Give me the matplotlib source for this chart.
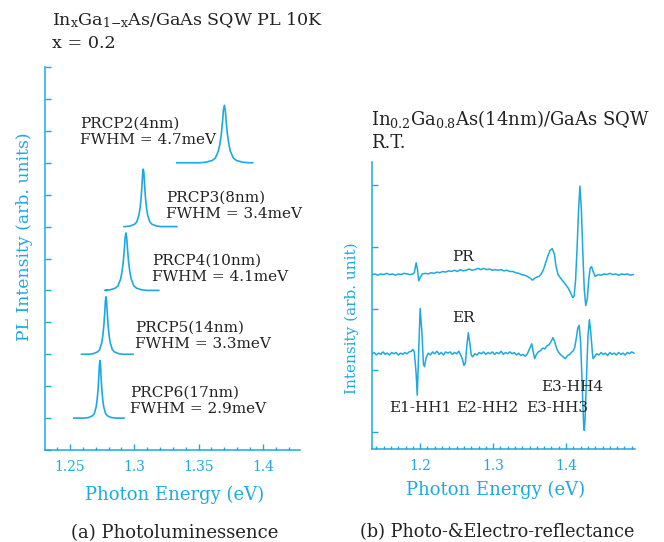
import numpy as np
import matplotlib
matplotlib.use("Agg")
import matplotlib.pyplot as plt
from matplotlib.ticker import MultipleLocator

# spectra colour and text colour
CYAN = "#1ca9e2"
INK = "#222222"

plt.rcParams["font.family"] = ["DejaVu Serif"]
plt.rcParams["mathtext.fontset"] = "dejavuserif"

# --- (a) PL spectra: one peak per sample ---
pl_names = ["PRCP2(4nm)", "PRCP3(8nm)", "PRCP4(10nm)", "PRCP5(14nm)", "PRCP6(17nm)"]
pl_fwhm_mev = [4.7, 3.4, 4.1, 3.3, 2.9]
pl_center = [1.370, 1.307, 1.2935, 1.278, 1.2733]
pl_offset = [9, 7, 5, 3, 1]
pl_height = [1.8, 1.8, 1.8, 1.8, 1.8]
pl_start = [1.333, 1.292, 1.279, 1.259, 1.253]
pl_stop = [1.392, 1.333, 1.319, 1.299, 1.292]
pl_label_xy = [(1.2578, 9.97), (1.3247, 7.65), (1.3138, 5.67), (1.3006, 3.57), (1.2967, 1.54)]

# line shape of a PL peak: offset from centre in FWHM units, relative intensity
shape_u = [-4, -3, -2, -1.5, -1.0, -0.75, -0.5, -0.3, -0.15, 0,
           0.15, 0.3, 0.5, 0.75, 1.0, 1.5, 2, 3, 4]
shape_i = [0, 0.01, 0.04, 0.08, 0.2, 0.32, 0.5, 0.72, 0.92, 1.0,
           0.92, 0.72, 0.5, 0.32, 0.2, 0.08, 0.04, 0.01, 0]

# --- (b) PR and ER spectra at room temperature ---
pr_e = [1.134, 1.138, 1.142, 1.146, 1.150, 1.154, 1.158, 1.162, 1.166, 1.170,
        1.174, 1.178, 1.182, 1.186, 1.190, 1.192, 1.1945, 1.1965, 1.198, 1.200,
        1.203, 1.207, 1.211, 1.215, 1.219, 1.223, 1.227, 1.231, 1.235, 1.239,
        1.243, 1.247, 1.251, 1.255, 1.259, 1.263, 1.267, 1.271, 1.275, 1.279,
        1.283, 1.287, 1.291, 1.295, 1.299, 1.303, 1.307, 1.311, 1.315, 1.319,
        1.323, 1.327, 1.331, 1.335, 1.339, 1.343, 1.347, 1.351, 1.354, 1.357,
        1.360, 1.363, 1.366, 1.369, 1.372, 1.375, 1.378, 1.381, 1.384, 1.386,
        1.389, 1.392, 1.396, 1.400, 1.403, 1.406, 1.409, 1.411, 1.413, 1.415,
        1.417, 1.419, 1.421, 1.423, 1.425, 1.427, 1.429, 1.431, 1.433, 1.435,
        1.437, 1.440, 1.444, 1.448, 1.452, 1.456, 1.460, 1.464, 1.468, 1.472,
        1.476, 1.480, 1.484, 1.488, 1.492]
pr_i = [2.55, 2.56, 2.54, 2.56, 2.55, 2.57, 2.55, 2.56, 2.54, 2.56,
        2.55, 2.57, 2.56, 2.55, 2.56, 2.58, 2.74, 2.62, 2.45, 2.50,
        2.56, 2.57, 2.56, 2.58, 2.57, 2.59, 2.58, 2.60, 2.59, 2.61,
        2.60, 2.62, 2.60, 2.63, 2.61, 2.62, 2.64, 2.62, 2.63, 2.65,
        2.63, 2.65, 2.63, 2.64, 2.62, 2.63, 2.62, 2.63, 2.61, 2.62,
        2.60, 2.60, 2.58, 2.57, 2.55, 2.54, 2.52, 2.49, 2.46, 2.49,
        2.51, 2.52, 2.56, 2.63, 2.74, 2.85, 2.94, 2.97, 2.88, 2.70,
        2.55, 2.50, 2.44, 2.38, 2.33, 2.26, 2.18, 2.20, 2.45, 2.95,
        3.55, 3.98, 3.60, 2.90, 2.30, 2.05, 2.15, 2.45, 2.65, 2.68,
        2.60, 2.52, 2.55, 2.54, 2.56, 2.55, 2.57, 2.55, 2.56, 2.54,
        2.56, 2.55, 2.56, 2.54, 2.55]

er_e = [1.134, 1.137, 1.140, 1.143, 1.146, 1.149, 1.152, 1.155, 1.158, 1.161,
        1.164, 1.167, 1.170, 1.173, 1.176, 1.179, 1.182, 1.185, 1.188, 1.190,
        1.192, 1.1945, 1.196, 1.198, 1.200, 1.2025, 1.2045, 1.206, 1.208, 1.211,
        1.214, 1.217, 1.220, 1.223, 1.226, 1.229, 1.232, 1.235, 1.238, 1.241,
        1.244, 1.247, 1.250, 1.253, 1.256, 1.258, 1.260, 1.262, 1.264, 1.266,
        1.268, 1.270, 1.272, 1.275, 1.278, 1.281, 1.284, 1.287, 1.290, 1.293,
        1.296, 1.299, 1.302, 1.305, 1.308, 1.311, 1.314, 1.317, 1.320, 1.323,
        1.326, 1.329, 1.332, 1.335, 1.338, 1.341, 1.344, 1.347, 1.350, 1.353,
        1.355, 1.357, 1.359, 1.362, 1.365, 1.368, 1.371, 1.374, 1.377, 1.380,
        1.382, 1.384, 1.386, 1.388, 1.390, 1.393, 1.396, 1.399, 1.402, 1.405,
        1.408, 1.410, 1.412, 1.414, 1.416, 1.418, 1.420, 1.422, 1.424, 1.425,
        1.426, 1.428, 1.430, 1.432, 1.434, 1.436, 1.437, 1.439, 1.442, 1.445,
        1.448, 1.451, 1.454, 1.457, 1.460, 1.463, 1.466, 1.469, 1.472, 1.475,
        1.478, 1.481, 1.484, 1.487, 1.490, 1.493]
er_i = [1.27, 1.29, 1.25, 1.28, 1.26, 1.30, 1.26, 1.28, 1.25, 1.29,
        1.27, 1.29, 1.25, 1.28, 1.26, 1.29, 1.27, 1.30, 1.31, 1.34,
        1.30, 0.95, 0.60, 1.30, 2.00, 1.60, 1.10, 1.06, 1.20, 1.28,
        1.25, 1.30, 1.27, 1.31, 1.26, 1.29, 1.25, 1.30, 1.28, 1.30,
        1.26, 1.29, 1.27, 1.31, 1.24, 1.18, 1.08, 1.12, 1.40, 1.61,
        1.45, 1.25, 1.22, 1.27, 1.25, 1.29, 1.27, 1.30, 1.26, 1.29,
        1.27, 1.30, 1.26, 1.29, 1.27, 1.31, 1.26, 1.29, 1.27, 1.30,
        1.27, 1.29, 1.25, 1.28, 1.24, 1.26, 1.23, 1.27, 1.35, 1.43,
        1.30, 1.19, 1.25, 1.30, 1.32, 1.36, 1.35, 1.40, 1.42, 1.48,
        1.53, 1.48, 1.40, 1.33, 1.29, 1.25, 1.22, 1.19, 1.24, 1.26,
        1.30, 1.32, 1.38, 1.52, 1.68, 1.73, 1.45, 0.80, 0.15, 0.03,
        0.20, 0.90, 1.55, 1.82, 1.60, 1.30, 1.19, 1.22, 1.27, 1.25,
        1.29, 1.26, 1.28, 1.24, 1.29, 1.26, 1.28, 1.25, 1.29, 1.26,
        1.28, 1.25, 1.29, 1.27, 1.30, 1.28]

trans_names = ["E1-HH1", "E2-HH2", "E3-HH3", "E3-HH4"]
trans_xy = [(1.200, 0.39), (1.292, 0.39), (1.388, 0.39), (1.408, 0.74)]


def style_axes(ax):
    for side in ("top", "right"):
        ax.spines[side].set_visible(False)
    for side in ("left", "bottom"):
        ax.spines[side].set_color(CYAN)
        ax.spines[side].set_linewidth(1.1)
    ax.tick_params(which="both", direction="in", color=CYAN, width=1.0,
                   labelcolor=CYAN, labelsize=10)
    ax.tick_params(which="major", length=4)
    ax.tick_params(which="minor", length=2)
    ax.tick_params(axis="x", pad=7)
    ax.tick_params(axis="y", labelleft=False)


fig = plt.figure(figsize=(6.64, 5.42), dpi=100)

# (a) photoluminescence
ax1 = fig.add_axes([45 / 664, 1 - 450 / 542, 255 / 664, 383 / 542])
for k in range(len(pl_names)):
    w = pl_fwhm_mev[k] / 1000.0
    xs = [pl_start[k]] + [pl_center[k] + u * w for u in shape_u] + [pl_stop[k]]
    ys = [pl_offset[k]] + [pl_offset[k] + pl_height[k] * s for s in shape_i] + [pl_offset[k]]
    ax1.plot(xs, ys, color=CYAN, lw=1.2)
    ax1.text(pl_label_xy[k][0], pl_label_xy[k][1],
             "%s\nFWHM = %.1fmeV" % (pl_names[k], pl_fwhm_mev[k]),
             color=INK, fontsize=11, ha="left", va="center", linespacing=1.25)
ax1.set_xlim(1.2306, 1.4288)
ax1.set_ylim(0, 12)
ax1.xaxis.set_minor_locator(MultipleLocator(0.01))
ax1.yaxis.set_major_locator(MultipleLocator(1))
ax1.set_xticks([1.25, 1.3, 1.35, 1.4])
ax1.set_xticklabels(["1.25", "1.3", "1.35", "1.4"])
style_axes(ax1)
ax1.set_xlabel("Photon Energy (eV)", color=CYAN, fontsize=13, va="center")
ax1.xaxis.set_label_coords(0.51, -0.1175)
ax1.set_ylabel("PL Intensity (arb. units)", color=CYAN, fontsize=12.4, va="center")
ax1.yaxis.set_label_coords(-0.082, 0.556)

# (b) photo- and electro-reflectance
ax2 = fig.add_axes([372 / 664, 1 - 449 / 542, 263 / 664, 287 / 542])
ax2.plot(pr_e, pr_i, color=CYAN, lw=1.1)
ax2.plot(er_e, er_i, color=CYAN, lw=1.1)
ax2.text(1.259, 2.84, "PR", color=INK, fontsize=11, ha="center", va="center")
ax2.text(1.259, 1.84, "ER", color=INK, fontsize=11, ha="center", va="center")
for name, (tx, ty) in zip(trans_names, trans_xy):
    ax2.text(tx, ty, name, color=INK, fontsize=11, ha="center", va="center")
ax2.set_xlim(1.134, 1.4945)
ax2.set_ylim(-0.27, 4.37)
ax2.set_xticks([1.2, 1.3, 1.4])
ax2.set_xticklabels(["1.2", "1.3", "1.4"])
ax2.xaxis.set_minor_locator(MultipleLocator(0.01))
ax2.set_yticks([0, 1, 2, 3, 4])
style_axes(ax2)
ax2.set_xlabel("Photon Energy (eV)", color=CYAN, fontsize=13, va="center")
ax2.xaxis.set_label_coords(0.468, -0.143)
ax2.set_ylabel("Intensity (arb. unit)", color=CYAN, fontsize=11, va="center")
ax2.yaxis.set_label_coords(-0.076, 0.456)

# panel headings and captions
fig.text(52 / 664, 1 - 25 / 542,
         r"In$_\mathrm{x}$Ga$_\mathrm{1{-}x}$As/GaAs SQW PL 10K",
         color=INK, fontsize=12.6, ha="left", va="baseline")
fig.text(52 / 664, 1 - 48 / 542, "x = 0.2", color=INK, fontsize=12.6,
         ha="left", va="baseline")
fig.text(371 / 664, 1 - 125 / 542,
         r"In$_\mathrm{0.2}$Ga$_\mathrm{0.8}$As(14nm)/GaAs SQW",
         color=INK, fontsize=13, ha="left", va="baseline")
fig.text(371 / 664, 1 - 148 / 542, "R.T.", color=INK, fontsize=13,
         ha="left", va="baseline")
fig.text(175 / 664, 1 - 533 / 542, "(a) Photoluminessence", color=INK,
         fontsize=13, ha="center", va="center")
fig.text(497 / 664, 1 - 532 / 542, "(b) Photo-&Electro-reflectance", color=INK,
         fontsize=12.7, ha="center", va="center")

fig.savefig("out.png", dpi=100)
